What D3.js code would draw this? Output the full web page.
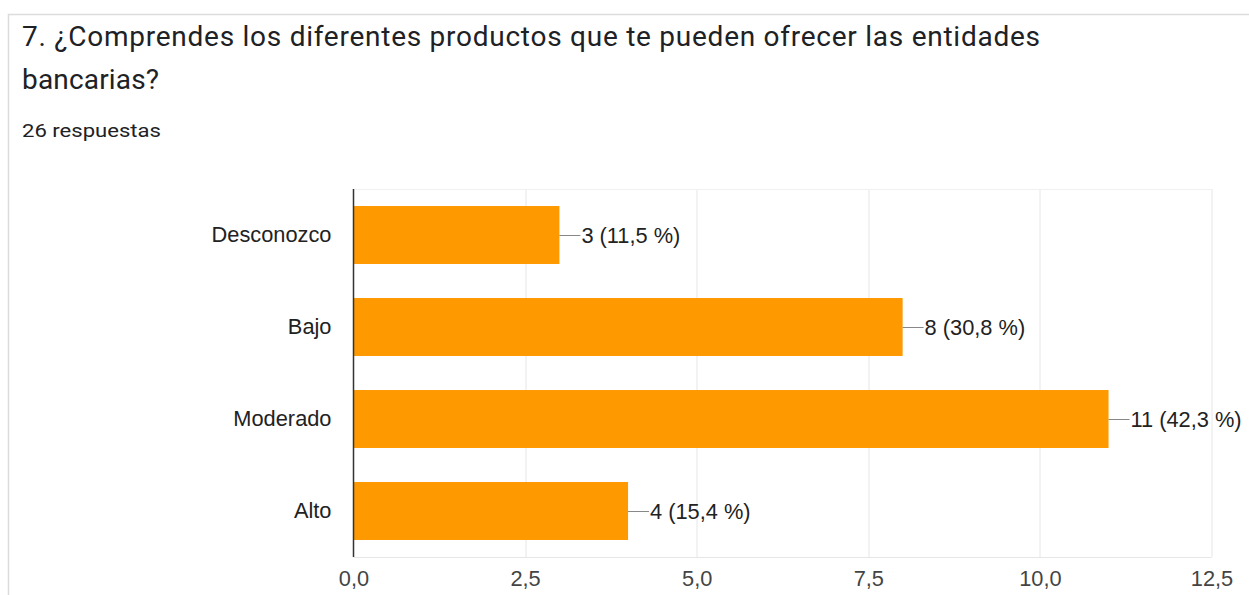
<!DOCTYPE html>
<html>
<head>
<meta charset="utf-8">
<script src="https://cdn.jsdelivr.net/npm/d3@7"></script>
<style>
  html, body { margin: 0; padding: 0; background: #fff; overflow: hidden; }
</style>
</head>
<body>
<div id="chart"></div>
<script>
//Datos
const TITLE_LINES = ['7. ¿Comprendes los diferentes productos que te pueden ofrecer las entidades', 'bancarias?'];
const TITLE_WIDTHS = [1018, 137];
const SUBTITLE = '26 respuestas';
const CATEGORIES = ['Desconozco', 'Bajo', 'Moderado', 'Alto'];
const VALUES = [3, 8, 11, 4];
const PERCENTS = ['11,5', '30,8', '42,3', '15,4'];
const X_TICKS = [0, 2.5, 5, 7.5, 10, 12.5];

const COLOR_BAR = '#ff9900',
    COLOR_GRID = '#e6e6e6',
    COLOR_TEXT = '#222222';

const FONT_CHART = 'Arial, "Liberation Sans", sans-serif';

let W = 1249, H = 595;
let margin = {top: 189, right: 38, bottom: 38, left: 353.5};
let width = 1211.5 - margin.left,
    height = 557 - margin.top;

let root = d3.select('#chart')
    .append('svg')
    .attr('width', W)
    .attr('height', H);

//Tarjeta
root.append('rect')
    .attr('x', 8.5).attr('y', 14.5)
    .attr('width', 1400).attr('height', 800)
    .attr('fill', '#fff')
    .attr('stroke', '#dcdcdc')
    .attr('stroke-width', 1.5);

//Título
root.append('g').selectAll('text')
    .data(TITLE_LINES)
    .enter()
    .append('text')
    .attr('x', 22)
    .attr('y', function(d, i) { return 45.5 + i * 43; })
    .attr('font-family', 'Roboto, sans-serif')
    .attr('font-size', 28)
    .attr('fill', '#202124')
    .attr('textLength', function(d, i) { return TITLE_WIDTHS[i]; })
    .attr('lengthAdjust', 'spacing')
    .text(function(d) { return d; });

root.append('text')
    .attr('x', 22).attr('y', 137)
    .attr('font-family', 'Roboto, sans-serif')
    .attr('font-size', 19)
    .attr('fill', '#202124')
    .attr('textLength', 139)
    .attr('lengthAdjust', 'spacingAndGlyphs')
    .text(SUBTITLE);

let svg = root.append('g')
    .attr('transform', 'translate(' + margin.left + ',' + margin.top + ')');

let x = d3.scaleLinear()
    .domain([0, 12.5])
    .range([0, width]);

let y = d3.scaleBand()
    .domain(CATEGORIES)
    .range([0, height])
    .padding(0.37)
    .paddingOuter(0.185);

//Rejilla
svg.append('g')
    .selectAll('line')
    .data(X_TICKS.slice(1))
    .enter()
    .append('line')
    .attr('x1', function(d) { return Math.round(x(d)) + 0.5; })
    .attr('x2', function(d) { return Math.round(x(d)) + 0.5; })
    .attr('y1', 0).attr('y2', height)
    .attr('stroke', COLOR_GRID);

svg.append('line')
    .attr('x1', 0).attr('x2', width)
    .attr('y1', 0.5).attr('y2', 0.5)
    .attr('stroke', '#f0f0f0');

svg.append('line')
    .attr('x1', 0).attr('x2', width)
    .attr('y1', height + 0.5).attr('y2', height + 0.5)
    .attr('stroke', COLOR_GRID);

//Eje X
let xAxis = svg.append('g')
    .attr('transform', 'translate(0,' + height + ')')
    .call(d3.axisBottom(x)
        .tickValues(X_TICKS)
        .tickSize(0)
        .tickPadding(14)
        .tickFormat(function(d) { return d3.format('.1f')(d).replace('.', ','); }));
xAxis.select('.domain').remove();
xAxis.selectAll('text')
    .attr('font-family', FONT_CHART)
    .attr('font-size', 21.8)
    .attr('fill', '#444');

//Eje Y
let yAxis = svg.append('g')
    .call(d3.axisLeft(y).tickSize(0).tickPadding(22));
yAxis.select('.domain').remove();
yAxis.selectAll('text')
    .attr('font-family', FONT_CHART)
    .attr('font-size', 21.8)
    .attr('fill', COLOR_TEXT);

//Barras
let data = CATEGORIES.map(function(c, i) { return {cat: c, valor: VALUES[i], pct: PERCENTS[i]}; });

svg.append('g')
    .selectAll('rect')
    .data(data)
    .enter()
    .append('rect')
    .attr('x', x(0))
    .attr('y', function(d) { return y(d.cat); })
    .attr('width', function(d) { return x(d.valor) - x(0); })
    .attr('height', y.bandwidth())
    .attr('fill', COLOR_BAR);

//Línea del eje
svg.append('line')
    .attr('x1', 0).attr('x2', 0)
    .attr('y1', 0).attr('y2', height)
    .attr('stroke', '#333')
    .attr('stroke-width', 1.5);

//Etiquetas
let labels = svg.append('g')
    .selectAll('g')
    .data(data)
    .enter()
    .append('g')
    .attr('transform', function(d) { return 'translate(' + x(d.valor) + ',' + (y(d.cat) + y.bandwidth() / 2) + ')'; });

labels.append('line')
    .attr('x1', 0).attr('x2', 21)
    .attr('y1', 0.5).attr('y2', 0.5)
    .attr('stroke', '#888');

labels.append('text')
    .attr('x', 22)
    .attr('dy', '0.35em')
    .attr('font-family', FONT_CHART)
    .attr('font-size', 21.8)
    .attr('fill', COLOR_TEXT)
    .text(function(d) { return d.valor + ' (' + d.pct + ' %)'; });
</script>
</body>
</html>
